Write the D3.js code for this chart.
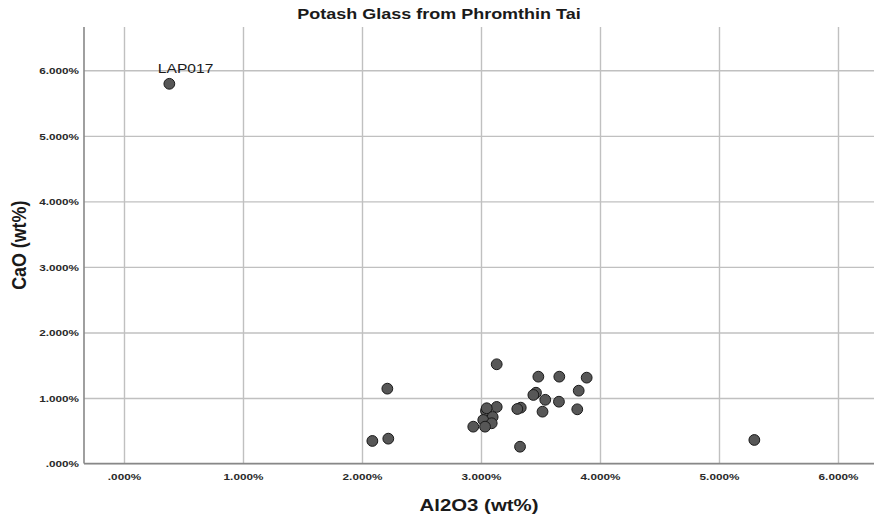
<!DOCTYPE html>
<html>
<head>
<meta charset="utf-8">
<script src="https://cdn.jsdelivr.net/npm/d3@7/dist/d3.min.js"></script>
<style>
  html, body { margin: 0; padding: 0; background: #fff; }
  svg { display: block; }
</style>
</head>
<body>
<svg id="chart" width="874" height="517"></svg>
<script>
// ---- data ----
const sampleIds = ["LAP017", "", "", "", "", "", "", "", "", "", "", "", "", "", "", "", "", "", "", "", "", "", "", "", "", "", ""];
const al2o3 = [0.381, 5.297, 2.213, 2.087, 2.221, 3.132, 3.482, 3.658, 3.888, 3.821, 3.462, 3.440, 3.540, 3.655, 3.809, 3.517, 3.334, 3.305, 3.132, 3.042, 3.048, 3.098, 3.019, 3.090, 3.034, 2.935, 3.328];
const cao   = [5.794, 0.359, 1.142, 0.344, 0.379, 1.514, 1.325, 1.325, 1.310, 1.111, 1.080, 1.046, 0.972, 0.943, 0.827, 0.791, 0.852, 0.832, 0.863, 0.802, 0.843, 0.710, 0.664, 0.614, 0.562, 0.562, 0.256];
const xTickValues = [0, 1, 2, 3, 4, 5, 6];
const xTickLabels = [".000%", "1.000%", "2.000%", "3.000%", "4.000%", "5.000%", "6.000%"];
const yTickValues = [0, 1, 2, 3, 4, 5, 6];
const yTickLabels = [".000%", "1.000%", "2.000%", "3.000%", "4.000%", "5.000%", "6.000%"];
const titleText = "Potash Glass from Phromthin Tai";
const xTitle = "Al2O3 (wt%)";
const yTitle = "CaO (wt%)";

// ---- layout ----
const W = 874, H = 517;
const plot = { left: 84, right: 874, top: 27, bottom: 463.5 };
const STRETCH = 1.2;

const x = d3.scaleLinear().domain([0, 6]).range([124, 838]);
const y = d3.scaleLinear().domain([0, 6]).range([463.5, 70.3]);

const svg = d3.select("#chart");
const FONT = "'Liberation Sans', Arial, Helvetica, sans-serif";

// gridlines
const gx = svg.append("g").attr("transform", `translate(0,${plot.bottom})`)
  .call(d3.axisBottom(x).tickValues(xTickValues).tickSize(-(plot.bottom - plot.top)).tickFormat(""));
gx.select(".domain").remove();
gx.selectAll("line").attr("stroke", "#c0c0c0").attr("stroke-width", 1.4);

const gy = svg.append("g").attr("transform", `translate(${plot.left},0)`)
  .call(d3.axisLeft(y).tickValues(yTickValues).tickSize(-(plot.right - plot.left)).tickFormat(""));
gy.select(".domain").remove();
gy.selectAll("line").attr("stroke", "#c0c0c0").attr("stroke-width", 1.4);

// axis lines
svg.append("line").attr("x1", plot.left).attr("x2", plot.left).attr("y1", plot.top).attr("y2", plot.bottom)
  .attr("stroke", "#888").attr("stroke-width", 1.6);
svg.append("line").attr("x1", plot.left).attr("x2", plot.right).attr("y1", plot.bottom).attr("y2", plot.bottom)
  .attr("stroke", "#888").attr("stroke-width", 1.6);

function stretchedText(g, tx, ty, txt, size, weight, anchor, sx) {
  return g.append("text")
    .attr("transform", `translate(${tx},${ty}) scale(${sx},1)`)
    .attr("text-anchor", anchor)
    .attr("font-family", FONT)
    .attr("font-size", size)
    .attr("font-weight", weight)
    .attr("fill", "#1a1a1a")
    .text(txt);
}

// tick labels via axes
const ax = svg.append("g").attr("transform", `translate(0,${plot.bottom})`)
  .call(d3.axisBottom(x).tickValues(xTickValues).tickSize(0).tickPadding(0)
    .tickFormat((d, i) => xTickLabels[i]));
ax.select(".domain").remove();
ax.selectAll("text")
  .attr("y", 0).attr("dy", 0)
  .attr("transform", `translate(0,16.5) scale(${STRETCH},1)`)
  .attr("font-family", FONT).attr("font-size", 9.8).attr("font-weight", "bold").attr("fill", "#2a2a2a");

const ay = svg.append("g").attr("transform", `translate(79,0)`)
  .call(d3.axisLeft(y).tickValues(yTickValues).tickSize(0).tickPadding(0)
    .tickFormat((d, i) => yTickLabels[i]));
ay.select(".domain").remove();
ay.selectAll("text")
  .attr("x", 0).attr("dy", "0.35em")
  .attr("transform", `scale(${STRETCH},1)`)
  .attr("font-family", FONT).attr("font-size", 9.8).attr("font-weight", "bold").attr("fill", "#2a2a2a");

// titles
stretchedText(svg, W / 2 + 2, 19, titleText, 15, "bold", "middle", STRETCH);
stretchedText(svg, (plot.left + plot.right) / 2, 511, xTitle, 17, "bold", "middle", STRETCH);
svg.append("text")
  .attr("transform", `translate(26,${(plot.top + plot.bottom) / 2}) rotate(-90) scale(1.05,1.2)`)
  .attr("text-anchor", "middle")
  .attr("font-family", FONT).attr("font-size", 17).attr("font-weight", "bold").attr("fill", "#1a1a1a")
  .text(yTitle);

// points
const pts = al2o3.map((v, i) => ({ x: v, y: cao[i], id: sampleIds[i] }));
svg.append("g").selectAll("circle").data(pts).join("circle")
  .attr("cx", d => x(d.x)).attr("cy", d => y(d.y)).attr("r", 5.4)
  .attr("fill", "#575757").attr("stroke", "#1a1a1a").attr("stroke-width", 1);

// point labels
svg.append("g").selectAll("text").data(pts.filter(d => d.id)).join("text")
  .attr("transform", d => `translate(${x(d.x) - 11.5},${y(d.y) - 11}) scale(${STRETCH},1)`)
  .attr("font-family", FONT).attr("font-size", 13).attr("fill", "#1a1a1a")
  .text(d => d.id);
</script>
</body>
</html>
